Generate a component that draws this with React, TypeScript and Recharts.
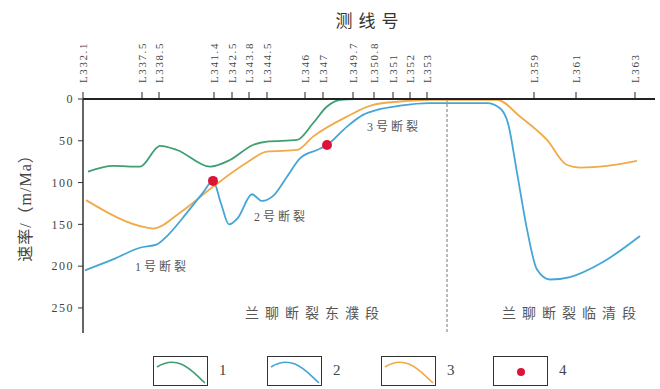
import React from "react";
import {
  ComposedChart,
  Line,
  Scatter,
  XAxis,
  YAxis,
  ReferenceLine,
  ReferenceDot,
} from "recharts";

// distance along the profile (km-ish) for each survey line tick
const tickPos = [0, 5.9, 7.6, 13.1, 14.9, 16.6, 18.4, 22.2, 24.0, 27.0, 29.1, 31.0, 32.7, 34.4, 45.1, 49.3, 55.2];
const tickLabels = [
  "L332.1", "L337.5", "L338.5", "L341.4", "L342.5", "L343.8", "L344.5", "L346", "L347",
  "L349.7", "L350.8", "L351", "L352", "L353", "L359", "L361", "L363",
];
const yTicks = [0, 50, 100, 150, 200, 250];

// [distance, rate m/Ma]
const line1 = [
  [0.5, 87], [3.0, 80], [5.7, 81], [7.7, 56], [9.4, 61], [12.7, 81], [14.7, 73], [17.0, 55],
  [18.4, 51], [21.4, 49], [23.0, 29], [24.4, 9], [25.7, 1], [27.2, 0], [30.0, 0],
];
const line2 = [
  [0.2, 205], [3.0, 192], [5.7, 178], [7.4, 174], [8.4, 164], [10.4, 136], [12.0, 112], [13.0, 98],
  [13.8, 125], [14.6, 150], [15.5, 142], [16.9, 114], [17.9, 122], [19.1, 115], [20.4, 93],
  [21.7, 71], [23.4, 61], [24.4, 55], [26.4, 33], [28.0, 19], [29.4, 13], [31.7, 8], [34.7, 5],
  [40.4, 5], [41.7, 11], [42.5, 29], [43.4, 88], [44.4, 156], [45.4, 204], [46.7, 216],
  [48.7, 213], [52.0, 195], [55.7, 164],
];
const line3 = [
  [0.3, 121], [6.4, 154], [7.0, 155], [9.7, 136], [13.0, 105], [16.4, 76], [18.4, 63], [21.4, 61],
  [23.0, 45], [26.4, 21], [29.0, 7], [31.7, 3], [34.7, 1], [41.4, 1], [43.7, 21], [46.4, 49],
  [48.4, 79], [49.7, 82], [52.4, 80], [55.4, 74],
];
const faultPoints = [[13.0, 98], [24.4, 55]];

const notes = [
  { x: 7.9, y: 201, text: "1号断裂", size: 12, sp: 3 },
  { x: 19.8, y: 141, text: "2号断裂", size: 12, sp: 3 },
  { x: 31.1, y: 33, text: "3号断裂", size: 12, sp: 3 },
  { x: 23.2, y: 256, text: "兰聊断裂东濮段", size: 14, sp: 6 },
  { x: 48.9, y: 256, text: "兰聊断裂临清段", size: 14, sp: 6 },
];
const boundary = 36.4;

const GREEN = "#3f9f72";
const BLUE = "#45a6d6";
const ORANGE = "#f1aa48";
const RED = "#dc1538";
const SERIF = "'Liberation Serif', 'Noto Sans CJK SC', serif";

const toRows = (arr: number[][]) => arr.map(([x, v]) => ({ x, v }));

const TopTick = (props: any) => {
  const { x, y, payload } = props;
  const i = tickPos.indexOf(payload.value);
  return (
    <text
      transform={`translate(${x + 4},${y}) rotate(-90)`}
      textAnchor="start"
      fontSize={11}
      letterSpacing={1.6}
      fill="#444"
      fontFamily={SERIF}
    >
      {tickLabels[i]}
    </text>
  );
};

const legendItems = [
  { label: "1", color: GREEN, kind: "line" },
  { label: "2", color: BLUE, kind: "line" },
  { label: "3", color: ORANGE, kind: "line" },
  { label: "4", color: RED, kind: "dot" },
];
const legendLeft = [153, 267, 381, 493];

export default function App() {
  return (
    <div style={{ position: "absolute", left: 0, top: 0, width: 660, height: 389, background: "#fff" }}>
      <div
        style={{
          position: "absolute", left: 0, width: 740, top: 7, textAlign: "center",
          fontSize: 17, letterSpacing: 6, color: "#333", fontFamily: SERIF,
        }}
      >
        测线号
      </div>
      <div
        style={{
          position: "absolute", left: 24, top: 204, transform: "translate(-50%,-50%) rotate(-90deg)",
          whiteSpace: "nowrap", fontSize: 16, letterSpacing: 1, color: "#444", fontFamily: SERIF,
        }}
      >
        速率/（m/Ma）
      </div>
      <ComposedChart width={660} height={389} margin={{ top: 69, right: 5, bottom: 56, left: 0 }}>
        <XAxis
          type="number"
          dataKey="x"
          orientation="top"
          domain={[0, 57.2]}
          ticks={tickPos}
          interval={0}
          height={30}
          tickSize={7}
          tickMargin={9}
          tick={<TopTick />}
          axisLine={{ stroke: "#222", strokeWidth: 2 }}
          tickLine={{ stroke: "#222" }}
          allowDataOverflow
        />
        <YAxis
          type="number"
          dataKey="v"
          reversed
          domain={[0, 280]}
          ticks={yTicks}
          width={83}
          tickSize={5}
          tickMargin={4}
          axisLine={{ stroke: "#333", strokeWidth: 1.5 }}
          tickLine={{ stroke: "#333" }}
          tick={{ fontSize: 12, fill: "#444", fontFamily: SERIF, letterSpacing: 1.5 }}
          allowDataOverflow
        />
        <ReferenceLine x={boundary} stroke="#777" strokeDasharray="3 2" />
        <Line data={toRows(line1)} dataKey="v" type="monotone" stroke={GREEN} strokeWidth={1.8} dot={false} isAnimationActive={false} />
        <Line data={toRows(line3)} dataKey="v" type="monotone" stroke={ORANGE} strokeWidth={1.8} dot={false} isAnimationActive={false} />
        <Line data={toRows(line2)} dataKey="v" type="monotone" stroke={BLUE} strokeWidth={1.8} dot={false} isAnimationActive={false} />
        <Scatter
          data={toRows(faultPoints)}
          dataKey="v"
          fill={RED}
          isAnimationActive={false}
          shape={(p: any) => <circle cx={p.cx} cy={p.cy} r={5} fill={RED} />}
        />
        {notes.map((n) => (
          <ReferenceDot
            key={n.text}
            x={n.x}
            y={n.y}
            r={0}
            stroke="none"
            fill="none"
            label={{
              value: n.text, position: "center", fontSize: n.size, fill: "#555",
              fontFamily: SERIF, letterSpacing: n.sp,
            }}
          />
        ))}
      </ComposedChart>
      {legendItems.map((it, i) => (
        <div key={it.label} style={{ position: "absolute", left: legendLeft[i], top: 356 }}>
          <svg width={56} height={32} style={{ position: "absolute", left: 0, top: 0 }}>
            <rect x={0.5} y={0.5} width={54} height={29} fill="#fff" stroke="#333" strokeWidth={1} />
            {it.kind === "line" ? (
              <path d="M4,11 C12,6 20,5 28,8 C38,12 44,20 52,27" fill="none" stroke={it.color} strokeWidth={1.6} />
            ) : (
              <circle cx={28} cy={16} r={4} fill={it.color} />
            )}
          </svg>
          <span
            style={{
              position: "absolute", left: 66, top: 6, fontSize: 15, color: "#444", fontFamily: SERIF,
            }}
          >
            {it.label}
          </span>
        </div>
      ))}
    </div>
  );
}
